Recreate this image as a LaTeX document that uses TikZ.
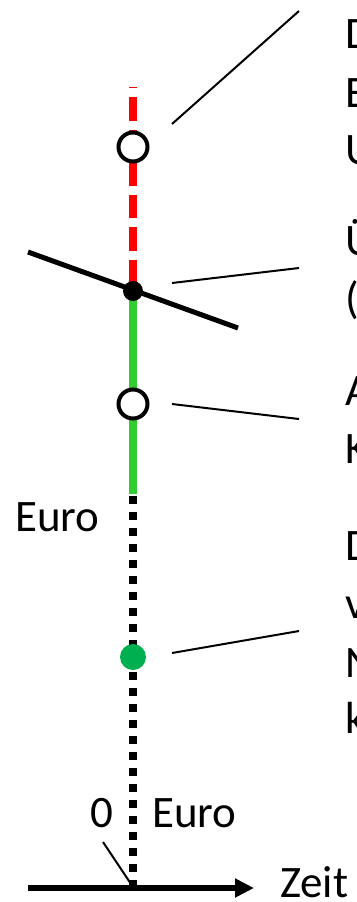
\documentclass[tikz,border=0pt]{standalone}
\usepackage{fontspec}
\setmainfont{Carlito}
\usetikzlibrary{arrows.meta}

\definecolor{lossred}{RGB}{255,0,0}
\definecolor{gaingreen}{RGB}{50,205,50}
\definecolor{dotgreen}{RGB}{0,176,80}

\tikzset{
  lbl/.style={inner sep=0pt, anchor=base west, font=\fontsize{45}{54}\selectfont},
  callout/.style={line width=2pt},
  ring/.style={circle, draw=black, line width=4pt, fill=white, minimum size=29pt, inner sep=0pt},
  blackdot/.style={circle, fill=black, minimum size=20pt, inner sep=0pt},
  greendot/.style={circle, fill=dotgreen, minimum size=26pt, inner sep=0pt},
  redpart/.style={lossred, line width=8pt, dash pattern=on 23.5pt off 9pt, dash phase=22.5pt},
  greenpart/.style={gaingreen, line width=8pt},
  blackpart/.style={black, line width=8pt, dash pattern=on 8pt off 8pt},
  axisline/.style={line width=6pt, -{Triangle[length=19pt,width=18pt]}},
}

\begin{document}
\begin{tikzpicture}[x=1pt,y=-1pt]
  \useasboundingbox (0,0) rectangle (356,902);
  \clip (0,0) rectangle (356,902);

  % points on the value axis
  \coordinate (top) at (133,87);
  \coordinate (cross) at (133,291);
  \coordinate (greenend) at (133,494);
  \coordinate (dotstart) at (133,496);
  \coordinate (origin) at (133,888);

  % time axis end points
  \coordinate (axisL) at (28,888);
  \coordinate (axisR) at (254,888);

  % value axis segments
  \draw[redpart] (top) -- (cross);
  \draw[greenpart] (cross) -- (greenend);
  \draw[blackpart] (dotstart) -- (origin);

  % time axis
  \draw[axisline] (axisL) -- (axisR);

  % slanted line through the crossing point
  \coordinate (slantA) at (28,252);
  \coordinate (slantB) at (238,328);
  \draw[line width=5pt] (slantA) -- (slantB);

  % markers
  \node[ring] (ringTop) at (133,147) {};
  \node[blackdot] (dotCross) at (cross) {};
  \node[ring] (ringMid) at (133,404) {};
  \node[greendot] (dotGreen) at (133,657) {};

  % labels on the right
  \node[lbl] (tA1) at (345,48) {D};
  \node[lbl] (tA2) at (345,107) {E};
  \node[lbl] (tA3) at (345,164) {U};
  \node[lbl] (tB1) at (345,255) {Ü};
  \node[lbl] (tB2) at (345,313) {(};
  \node[lbl] (tC1) at (345,405) {A};
  \node[lbl] (tC2) at (345,463) {K};
  \node[lbl] (tD1) at (345,560) {D};
  \node[lbl] (tD2) at (345,618) {v};
  \node[lbl] (tD3) at (345,677) {N};
  \node[lbl] (tD4) at (345,733) {k};

  % axis labels
  \node[lbl] (euroTop) at (15,531) {Euro};
  \node[lbl] (zero) at (90,827) {0};
  \node[lbl] (euroZero) at (152,827) {Euro};
  \node[lbl] (zeit) at (280,897) {Zeit};

  % callout lines
  \coordinate (cA1) at (172,124); \coordinate (cA2) at (299,11);
  \coordinate (cB1) at (172,283); \coordinate (cB2) at (299,268);
  \coordinate (cC1) at (172,404); \coordinate (cC2) at (299,419);
  \coordinate (cD1) at (172,653); \coordinate (cD2) at (299,631);
  \coordinate (cZ1) at (103,842); \coordinate (cZ2) at (131,884);
  \draw[callout] (cA1) -- (cA2);
  \draw[callout] (cB1) -- (cB2);
  \draw[callout] (cC1) -- (cC2);
  \draw[callout] (cD1) -- (cD2);
  \draw[callout] (cZ1) -- (cZ2);
\end{tikzpicture}
\end{document}
